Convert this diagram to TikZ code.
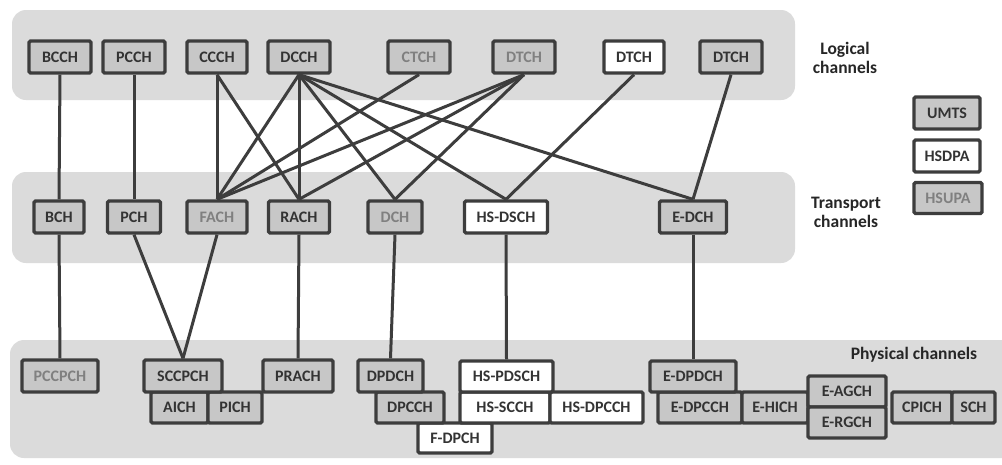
\documentclass[tikz,border=0pt]{standalone}
\usepackage{fontspec}
\setmainfont{Carlito}
\usepackage{xcolor}
\usepackage{tikz}

\definecolor{bandgray}{gray}{0.86}
\definecolor{boxgray}{gray}{0.78}
\definecolor{edgegray}{gray}{0.24}
\definecolor{fadetext}{gray}{0.50}

\tikzset{
  band/.style={fill=bandgray,rounded corners=14pt},
  chan/.style={draw=edgegray,line width=3.3pt,rounded corners=1.5pt,inner sep=0pt,
    minimum height=32pt,font=\bfseries\fontsize{16}{18}\selectfont,text=black!80},
  umts/.style={chan,fill=boxgray},
  hsdpa/.style={chan,fill=white},
  hsupa/.style={chan,fill=boxgray,text=fadetext},
  link/.style={draw=edgegray,line width=3pt},
  layer/.style={font=\bfseries\fontsize{17.5}{19}\selectfont,align=center,text=black!85}
}

\begin{document}
\begin{tikzpicture}[x=1pt,y=-1pt]
\path[use as bounding box] (0,0) rectangle (1002,464);
\fill[white] (0,0) rectangle (1002,464);

% layers
\fill[band] (12,10) rectangle (795,100);
\fill[band] (12,172) rectangle (795,263);
\fill[band] (10,340) rectangle (1030,458);

\node[layer] (loglabel) at (845,58) {Logical\\channels};
\node[layer] (trlabel) at (846,212) {Transport\\channels};
\node[layer] (phylabel) at (914,355) {Physical channels};

% legend
\node[umts,minimum width=66pt] (keyumts) at (947,113) {UMTS};
\node[hsdpa,minimum width=66pt] (keyhsdpa) at (947,156) {HSDPA};
\node[hsupa,minimum width=68pt,minimum height=31pt] (keyhsupa) at (948,198) {HSUPA};

% logical channels
\node[umts,minimum width=62pt] (bcch) at (60,57) {BCCH};
\node[umts,minimum width=62pt] (pcch) at (134,57) {PCCH};
\node[umts,minimum width=60pt] (ccch) at (217,57) {CCCH};
\node[umts,minimum width=62pt] (dcch) at (299,57) {DCCH};
\node[hsupa,minimum width=62pt] (ctch) at (419,57) {CTCH};
\node[hsupa,minimum width=62pt] (dtcha) at (524,57) {DTCH};
\node[hsdpa,minimum width=60pt] (dtchb) at (634,57) {DTCH};
\node[umts,minimum width=62pt] (dtchc) at (731,57) {DTCH};

% transport channels
\node[umts,minimum width=50pt] (bch) at (59,217) {BCH};
\node[umts,minimum width=53pt] (pch) at (134,217) {PCH};
\node[hsupa,minimum width=60pt] (fach) at (217,217) {FACH};
\node[umts,minimum width=61pt] (rach) at (299,217) {RACH};
\node[hsupa,minimum width=54pt] (dch) at (395,217) {DCH};
\node[hsdpa,minimum width=83pt] (hsdsch) at (506,217) {HS-DSCH};
\node[umts,minimum width=67pt] (edch) at (693,217) {E-DCH};

% physical channels
\node[hsupa,minimum width=76pt] (pccpch) at (60,376) {PCCPCH};
\node[umts,minimum width=57pt,minimum height=31pt] (aich) at (179.5,407.5) {AICH};
\node[umts,minimum width=54pt,minimum height=31pt] (pich) at (235,407.5) {PICH};
\node[umts,minimum width=78pt] (sccpch) at (183,376) {SCCPCH};
\node[umts,minimum width=70pt] (prach) at (298,376) {PRACH};
\node[hsdpa,minimum width=74pt,minimum height=30pt] (fdpch) at (455,438) {F-DPCH};
\node[umts,minimum width=68pt,minimum height=31pt] (dpcch) at (410,407.5) {DPCCH};
\node[umts,minimum width=65pt] (dpdch) at (390.5,376) {DPDCH};
\node[hsdpa,minimum width=90pt,minimum height=31pt] (hsscch) at (505,407.5) {HS-SCCH};
\node[hsdpa,minimum width=93pt,minimum height=31pt] (hsdpcch) at (596.5,407.5) {HS-DPCCH};
\node[hsdpa,minimum width=93pt,minimum height=31pt] (hspdsch) at (506.5,376.5) {HS-PDSCH};
\node[umts,minimum width=84pt,minimum height=31pt] (edpcch) at (700,407.5) {E-DPCCH};
\node[umts,minimum width=86pt,minimum height=31pt] (edpdch) at (693,376.5) {E-DPDCH};
\node[umts,minimum width=66pt,minimum height=31pt] (ehich) at (775,407.5) {E-HICH};
\node[umts,minimum width=78pt,minimum height=31pt] (eagch) at (847,391.5) {E-AGCH};
\node[umts,minimum width=78pt,minimum height=31pt] (ergch) at (847,422.5) {E-RGCH};
\node[umts,minimum width=60pt,minimum height=31pt] (cpich) at (922,407.5) {CPICH};
\node[umts,minimum width=43pt,minimum height=31pt] (sch) at (973.5,407.5) {SCH};

% logical -> transport
\draw[link] (bcch.south) -- (bch.north);
\draw[link] (pcch.south) -- (pch.north);
\draw[link] (ccch.south) -- (fach.north);
\draw[link] (ccch.south) -- (rach.north);
\draw[link] (dcch.south) -- (fach.north);
\draw[link] (dcch.south) -- (rach.north);
\draw[link] (dcch.south) -- (dch.north);
\draw[link] (dcch.south) -- (hsdsch.north);
\draw[link] (dcch.south) -- (edch.north);
\draw[link] (ctch.south) -- (fach.north);
\draw[link] (dtcha.south) -- (fach.north);
\draw[link] (dtcha.south) -- (rach.north);
\draw[link] (dtcha.south) -- (dch.north);
\draw[link] (dtchb.south) -- (hsdsch.north);
\draw[link] (dtchc.south) -- (edch.north);

% transport -> physical
\draw[link] (bch.south) -- (pccpch.north);
\draw[link] (pch.south) -- (sccpch.north);
\draw[link] (fach.south) -- (sccpch.north);
\draw[link] (rach.south) -- (prach.north);
\draw[link] (dch.south) -- (dpdch.north);
\draw[link] (hsdsch.south) -- (hspdsch.north);
\draw[link] (edch.south) -- (edpdch.north);
\end{tikzpicture}
\end{document}
